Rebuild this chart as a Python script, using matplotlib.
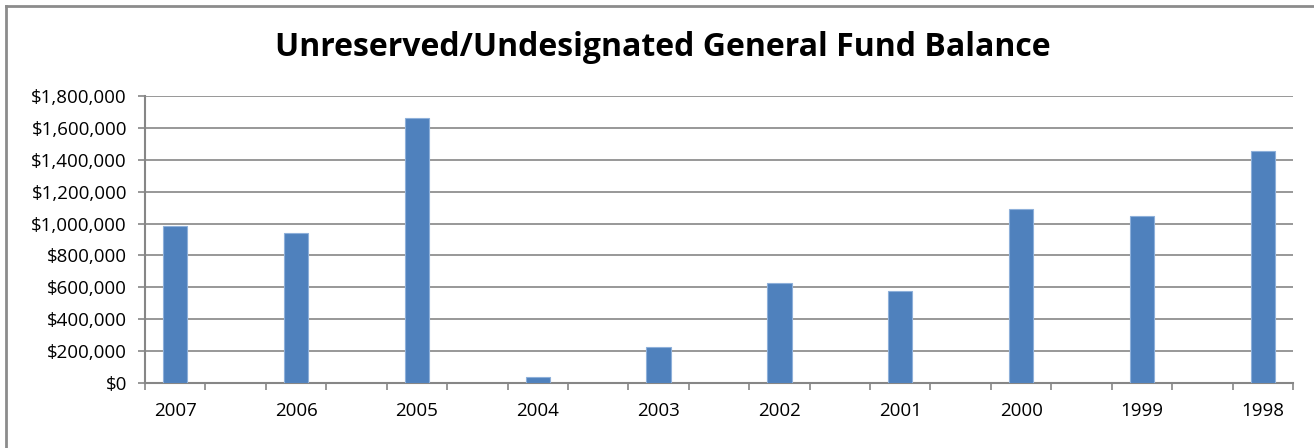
import numpy as np
import matplotlib.pyplot as plt
from matplotlib.ticker import FuncFormatter
from matplotlib.lines import Line2D

years = ['2007', '2006', '2005', '2004', '2003', '2002', '2001', '2000', '1999', '1998']
balance = [982000, 940000, 1662000, 37000, 227000, 628000, 578000, 1090000, 1045000, 1455000]

plt.rcParams['font.family'] = ['Open Sans', 'DejaVu Sans']

fig = plt.figure(figsize=(13.14, 4.48), dpi=100)
ax = fig.add_axes([145 / 1314, 65 / 448, 1148 / 1314, 287 / 448])

# Excel layout: every year sits in a slot with an empty slot after it
pos = np.arange(len(years)) * 2
ax.bar(pos, balance, width=0.4, color='#4F81BD', edgecolor='#8EB0DA', linewidth=0.8, zorder=3)

ax.set_xlim(-0.5, pos[-1] + 0.5)
ax.set_ylim(0, 1800000)
ax.set_yticks(np.arange(0, 1800001, 200000))
ax.yaxis.set_major_formatter(FuncFormatter(lambda v, p: '${:,.0f}'.format(v)))

ax.set_xticks(np.arange(-0.5, pos[-1] + 1, 1))
ax.set_xticklabels([])
ax.set_xticks(pos, minor=True)
ax.set_xticklabels(years, minor=True)
ax.tick_params(axis='x', which='major', length=5, width=1.2, color='#868686', direction='out')
ax.tick_params(axis='x', which='minor', length=0, pad=14, labelsize=13.5)
ax.tick_params(axis='y', length=5, width=1.2, color='#868686', labelsize=13.5, pad=8)

ax.grid(axis='y', color='#868686', linewidth=1.2, zorder=0)
for s in ['top', 'right']:
    ax.spines[s].set_visible(False)
for s in ['left', 'bottom']:
    ax.spines[s].set_color('#868686')
    ax.spines[s].set_linewidth(1.5)

fig.text(663 / 1314, 1 - 48 / 448, 'Unreserved/Undesignated General Fund Balance',
         ha='center', va='center', fontsize=23, fontweight='bold')

# chart area border (only left and top visible in the crop)
fig.add_artist(Line2D([5.5 / 1314, 5.5 / 1314], [0, 1 - 6 / 448], transform=fig.transFigure, color='#8C8C8C', linewidth=2))
fig.add_artist(Line2D([5.5 / 1314, 1], [1 - 6 / 448, 1 - 6 / 448], transform=fig.transFigure, color='#8C8C8C', linewidth=2))

fig.savefig('out.png', dpi=100)
